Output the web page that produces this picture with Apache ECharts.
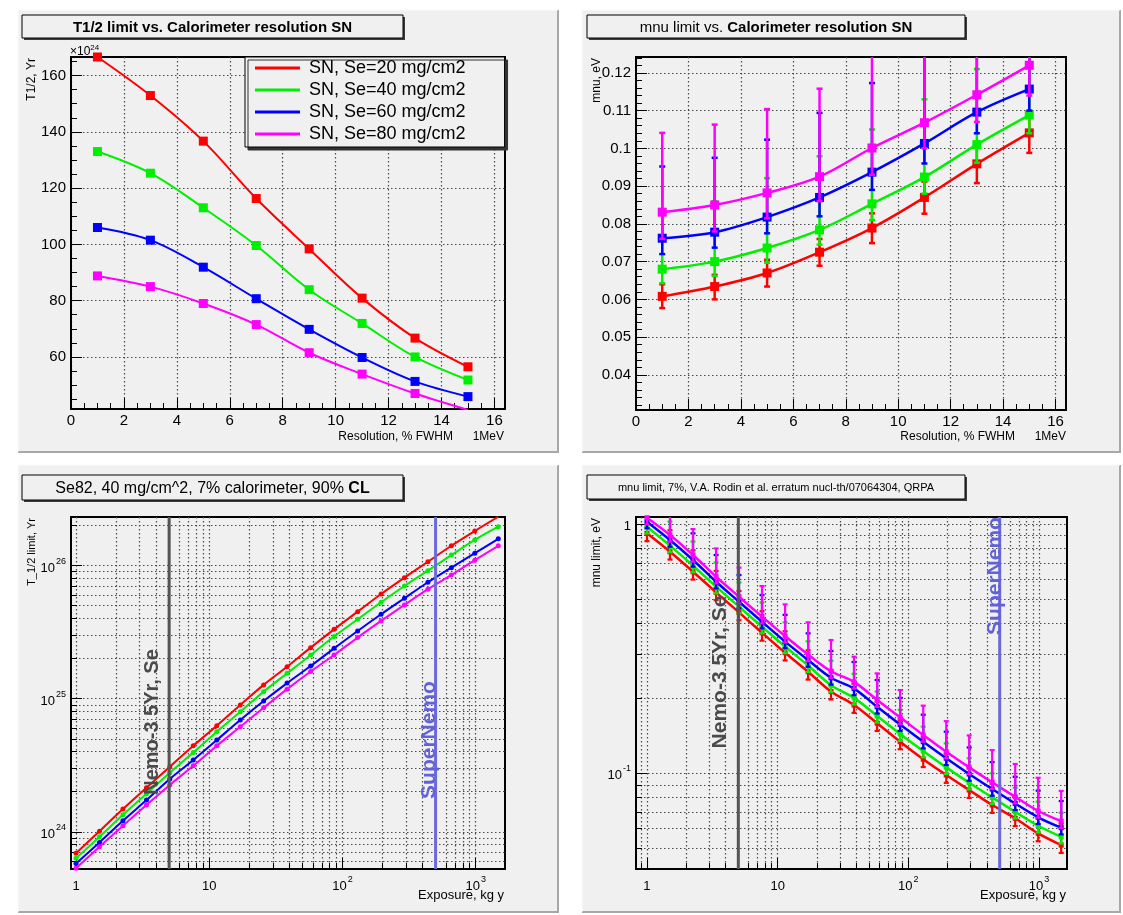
<!DOCTYPE html>
<html>
<head>
<meta charset="utf-8">
<script src="https://cdn.jsdelivr.net/npm/echarts@6.0.0/dist/echarts.min.js"></script>
<style>
  html, body { margin: 0; padding: 0; background: #fff; }
  #main { width: 1123px; height: 915px; }
</style>
</head>
<body>
<div id="main"></div>
<script>
// ---------- data ----------
var seriesNames = ['SN, Se=20 mg/cm2', 'SN, Se=40 mg/cm2', 'SN, Se=60 mg/cm2', 'SN, Se=80 mg/cm2'];
var colors = ['#ff0000', '#00ee00', '#0000ff', '#ff00ff'];

// resolution, % FWHM at 1 MeV
var resolution = [1, 3, 5, 7, 9, 11, 13, 15];

// T1/2 limit (x10^24 yr) vs resolution
var t12Se20 = [166.6, 152.9, 136.7, 116.3, 98.4, 80.9, 66.7, 56.5];
var t12Se40 = [133.0, 125.3, 113.0, 99.6, 83.9, 71.9, 60.0, 51.8];
var t12Se60 = [106.0, 101.5, 91.9, 80.7, 69.8, 59.8, 51.3, 45.9];
var t12Se80 = [88.8, 85.0, 79.0, 71.5, 61.5, 53.9, 47.0, 41.2];

// mnu limit (eV) vs resolution, with error bar ends
var mnuSe20 = [0.0608, 0.0634, 0.0670, 0.0725, 0.0789, 0.0870, 0.0959, 0.1041];
var mnuSe40 = [0.0680, 0.0700, 0.0736, 0.0784, 0.0853, 0.0924, 0.1010, 0.1088];
var mnuSe60 = [0.0762, 0.0778, 0.0818, 0.0870, 0.0937, 0.1013, 0.1096, 0.1157];
var mnuSe80 = [0.0831, 0.0850, 0.0882, 0.0925, 0.1001, 0.1068, 0.1142, 0.1220];
var mnuLoSe20 = [0.0577, 0.0600, 0.0634, 0.0689, 0.0749, 0.0827, 0.0908, 0.0988];
var mnuHiSe20 = [0.0640, 0.0665, 0.0705, 0.0760, 0.0828, 0.0912, 0.1005, 0.1090];
var mnuLoSe40 = [0.0643, 0.0662, 0.0697, 0.0745, 0.0810, 0.0880, 0.0962, 0.1040];
var mnuHiSe40 = [0.0838, 0.0860, 0.0921, 0.0979, 0.1050, 0.1130, 0.1210, 0.1290];
var mnuLoSe60 = [0.0720, 0.0737, 0.0775, 0.0820, 0.0890, 0.0960, 0.1040, 0.1100];
var mnuHiSe60 = [0.0952, 0.0975, 0.1023, 0.1094, 0.1173, 0.1250, 0.1340, 0.1420];
var mnuLoSe80 = [0.0760, 0.0780, 0.0815, 0.0860, 0.0930, 0.1000, 0.1070, 0.1140];
var mnuHiSe80 = [0.1041, 0.1063, 0.1104, 0.1158, 0.1250, 0.1330, 0.1400, 0.1480];

// exposure, kg y
var exposure = [1, 1.5, 2.25, 3.38, 5.06, 7.59, 11.4, 17.1, 25.6, 38.4, 57.7, 86.5, 130, 195, 292, 438, 657, 985, 1478];

// T1/2 limit (yr) vs exposure
var t12ExpSe20 = [6.89e23, 1.01e24, 1.48e24, 2.14e24, 3.08e24, 4.43e24, 6.27e24, 8.97e24, 1.27e25, 1.74e25, 2.42e25, 3.32e25, 4.51e25, 6.12e25, 8.12e25, 1.07e26, 1.41e26, 1.82e26, 2.33e26];
var t12ExpSe40 = [6.31e23, 9.17e23, 1.34e24, 1.93e24, 2.78e24, 3.95e24, 5.65e24, 7.98e24, 1.13e25, 1.55e25, 2.13e25, 2.93e25, 3.95e25, 5.31e25, 7.03e25, 9.17e25, 1.20e26, 1.56e26, 1.96e26];
var t12ExpSe60 = [5.78e23, 8.32e23, 1.21e24, 1.73e24, 2.49e24, 3.46e24, 4.89e24, 6.92e24, 9.61e24, 1.31e25, 1.76e25, 2.39e25, 3.23e25, 4.31e25, 5.69e25, 7.50e25, 9.66e25, 1.24e26, 1.59e26];
var t12ExpSe80 = [5.31e23, 7.71e23, 1.11e24, 1.59e24, 2.25e24, 3.13e24, 4.43e24, 6.15e24, 8.55e24, 1.18e25, 1.60e25, 2.13e25, 2.88e25, 3.84e25, 5.07e25, 6.65e25, 8.51e25, 1.10e26, 1.41e26];

// mnu limit (eV) vs exposure, with error bar ends
var mnuExpSe20 = [0.920, 0.776, 0.645, 0.533, 0.443, 0.367, 0.305, 0.256, 0.213, 0.188, 0.159, 0.134, 0.114, 0.0985, 0.0857, 0.0746, 0.0660, 0.0574, 0.0515];
var mnuExpSe40 = [0.978, 0.821, 0.682, 0.562, 0.467, 0.388, 0.323, 0.271, 0.226, 0.201, 0.170, 0.144, 0.123, 0.1057, 0.0917, 0.0801, 0.0701, 0.0616, 0.0556];
var mnuExpSe60 = [1.025, 0.865, 0.719, 0.588, 0.489, 0.406, 0.338, 0.285, 0.242, 0.219, 0.185, 0.157, 0.134, 0.115, 0.0994, 0.0865, 0.0757, 0.0666, 0.0605];
var mnuExpSe80 = [1.063, 0.906, 0.753, 0.616, 0.512, 0.426, 0.356, 0.300, 0.257, 0.233, 0.197, 0.168, 0.1425, 0.1221, 0.1057, 0.0920, 0.0805, 0.0706, 0.0643];
var mnuExpLoSe20 = [0.856, 0.722, 0.600, 0.496, 0.412, 0.341, 0.284, 0.238, 0.198, 0.175, 0.148, 0.125, 0.106, 0.0916, 0.0797, 0.0694, 0.0614, 0.0534, 0.0479];
var mnuExpHiSe20 = [1.12, 0.947, 0.787, 0.650, 0.540, 0.448, 0.372, 0.312, 0.260, 0.229, 0.194, 0.163, 0.139, 0.120, 0.105, 0.0910, 0.0805, 0.0700, 0.0628];
var mnuExpLoSe40 = [0.919, 0.772, 0.641, 0.528, 0.439, 0.365, 0.304, 0.255, 0.212, 0.189, 0.160, 0.135, 0.116, 0.0994, 0.0862, 0.0753, 0.0659, 0.0579, 0.0523];
var mnuExpHiSe40 = [1.22, 1.026, 0.853, 0.703, 0.584, 0.485, 0.404, 0.339, 0.283, 0.251, 0.213, 0.180, 0.154, 0.132, 0.115, 0.100, 0.0876, 0.0770, 0.0695];
var mnuExpLoSe60 = [0.964, 0.813, 0.676, 0.553, 0.460, 0.382, 0.318, 0.268, 0.227, 0.206, 0.174, 0.148, 0.126, 0.108, 0.0934, 0.0813, 0.0712, 0.0626, 0.0569];
var mnuExpHiSe60 = [1.31, 1.107, 0.920, 0.753, 0.626, 0.520, 0.433, 0.365, 0.310, 0.280, 0.237, 0.201, 0.172, 0.147, 0.127, 0.111, 0.0969, 0.0852, 0.0774];
var mnuExpLoSe80 = [0.999, 0.852, 0.708, 0.579, 0.481, 0.400, 0.335, 0.282, 0.242, 0.219, 0.185, 0.158, 0.134, 0.115, 0.0994, 0.0865, 0.0757, 0.0664, 0.0604];
var mnuExpHiSe80 = [1.10, 1.09, 0.957, 0.800, 0.670, 0.565, 0.477, 0.404, 0.343, 0.294, 0.252, 0.216, 0.187, 0.162, 0.142, 0.124, 0.109, 0.096, 0.085];

// reference exposures (vertical lines)
var markerExposure = [5, 500];
var markerLabels = ['Nemo-3 5Yr, Se', 'SuperNemo'];
var markerColors = ['#555555', '#6a6ada'];

// tick positions / labels
var resTicks = [0, 2, 4, 6, 8, 10, 12, 14, 16];
var t12Ticks = [60, 80, 100, 120, 140, 160];
var mnuTicks = [0.04, 0.05, 0.06, 0.07, 0.08, 0.09, 0.1, 0.11, 0.12];
var expDecades = [1, 10, 100, 1000];
var t12Decades = [1e24, 1e25, 1e26];
var mnuDecades = [0.1, 1];

// ---------- helpers ----------
var FONT = '"Liberation Sans", Arial, Helvetica, sans-serif';
var PANEL = '#f0f0f0';
var gridLine = { color: '#4a4a4a', type: [1.5, 2.5], width: 1.2 };

function steps(from, to, step) {
    var out = [];
    for (var v = from; v <= to + step * 1e-6; v += step) out.push(Math.round(v * 1e6) / 1e6);
    return out;
}
function logMinors(fromExp, toExp, lo, hi) {
    var out = [];
    for (var e = fromExp; e <= toExp; e++) {
        for (var m = 2; m <= 9; m++) {
            var v = m * Math.pow(10, e);
            if (v >= lo && v <= hi) out.push(v);
        }
    }
    return out;
}
function withoutMajors(list, majors) {
    return list.filter(function (v) {
        return !majors.some(function (m) { return Math.abs(m - v) < 1e-9 * Math.max(1, Math.abs(m)); });
    });
}

var supRich = {
    b: { fontSize: 13, fontFamily: FONT, color: '#000', lineHeight: 18, verticalAlign: 'bottom' },
    s: { fontSize: 9, fontFamily: FONT, color: '#000', lineHeight: 18, verticalAlign: 'top', padding: [0, 0, 0, 1] }
};

function axisPair(g, pos, c) {
    var common = { type: c.type, gridIndex: g, position: pos, min: c.min, max: c.max };
    if (c.type === 'log') common.logBase = 10;
    var main = Object.assign({}, common, {
        axisLine: { show: true, onZero: false, lineStyle: { color: '#000', width: 2 } },
        axisTick: { show: true, inside: true, length: 11, customValues: c.majors, lineStyle: { color: '#000', width: 1 } },
        axisLabel: {
            show: true, customValues: c.labels || c.majors, formatter: c.fmt, color: '#000',
            fontFamily: FONT, fontSize: c.fontSize, margin: c.margin, rich: c.rich, hideOverlap: false
        },
        splitLine: { show: true, lineStyle: gridLine },
        minorTick: { show: false },
        minorSplitLine: { show: false }
    });
    var over = Object.assign({}, common, {
        axisLine: { show: false },
        axisLabel: { show: false },
        axisTick: { show: true, inside: true, length: 6, customValues: c.minors, lineStyle: { color: '#000', width: 1 } },
        splitLine: { show: !!c.logGrid, lineStyle: gridLine },
        minorTick: { show: false },
        minorSplitLine: { show: false }
    });
    return [main, over];
}

function expFmt(v) {
    if (Math.abs(v - 1) < 1e-9) return '{b|1}';
    if (Math.abs(v - 10) < 1e-9) return '{b|10}';
    return '{b|10}{s|' + Math.round(Math.log10(v)) + '}';
}

function lineSeries(g, name, xs, ys, color, z, symbol, size, width) {
    return {
        type: 'line', name: name, xAxisIndex: 2 * g, yAxisIndex: 2 * g, z: z,
        data: xs.map(function (x, i) { return [x, ys[i]]; }),
        smooth: 0.35, symbol: symbol, symbolSize: size, showSymbol: true, showAllSymbol: true,
        itemStyle: { color: color }, lineStyle: { color: color, width: width },
        silent: true, animation: false
    };
}

function errorSeries(g, xs, lo, hi, color, z, cap, width) {
    return {
        type: 'custom', xAxisIndex: 2 * g, yAxisIndex: 2 * g, z: z, silent: true, animation: false,
        data: xs.map(function (x, i) { return [x, lo[i], hi[i]]; }),
        renderItem: function (params, api) {
            var cs = params.coordSys;
            var top = cs.y, bot = cs.y + cs.height;
            var p0 = api.coord([api.value(0), api.value(1)]);
            var p1 = api.coord([api.value(0), api.value(2)]);
            var x = p0[0];
            var y0 = Math.min(Math.max(p0[1], top), bot);
            var y1 = Math.min(Math.max(p1[1], top), bot);
            var st = { stroke: color, lineWidth: width };
            var kids = [{ type: 'line', shape: { x1: x, y1: y0, x2: x, y2: y1 }, style: st }];
            if (p0[1] >= top && p0[1] <= bot) kids.push({ type: 'line', shape: { x1: x - cap, y1: y0, x2: x + cap, y2: y0 }, style: st });
            if (p1[1] >= top && p1[1] <= bot) kids.push({ type: 'line', shape: { x1: x - cap, y1: y1, x2: x + cap, y2: y1 }, style: st });
            return { type: 'group', children: kids };
        }
    };
}

function markerSeries(g, yRef) {
    return {
        type: 'custom', xAxisIndex: 2 * g, yAxisIndex: 2 * g, z: 20, silent: true, animation: false,
        data: markerExposure.map(function (x, i) { return [x, yRef, i]; }),
        renderItem: function (params, api) {
            var cs = params.coordSys;
            var x = api.coord([api.value(0), api.value(1)])[0];
            return {
                type: 'line', shape: { x1: x, y1: cs.y, x2: x, y2: cs.y + cs.height },
                style: { stroke: markerColors[api.value(2)], lineWidth: 3 }
            };
        }
    };
}

// ---------- axes ----------
var xAxes = [], yAxes = [];
// top-left
xAxes = xAxes.concat(axisPair(0, 'bottom', { type: 'value', min: 0, max: 16.4, majors: resTicks,
    minors: withoutMajors(steps(0.5, 16, 0.5), resTicks), fontSize: 15, margin: 4 }));
yAxes = yAxes.concat(axisPair(0, 'left', { type: 'value', min: 41.5, max: 166.6, majors: t12Ticks,
    minors: withoutMajors(steps(45, 165, 5), t12Ticks), fontSize: 15, margin: 5 }));
// top-right
xAxes = xAxes.concat(axisPair(1, 'bottom', { type: 'value', min: 0, max: 16.4, majors: resTicks,
    minors: withoutMajors(steps(0.5, 16, 0.5), resTicks), fontSize: 15, margin: 4 }));
yAxes = yAxes.concat(axisPair(1, 'left', { type: 'value', min: 0.0307, max: 0.1242, majors: mnuTicks,
    minors: withoutMajors(steps(0.032, 0.124, 0.002), mnuTicks), fontSize: 15, margin: 5 }));
// bottom-left
xAxes = xAxes.concat(axisPair(2, 'bottom', { type: 'log', min: 0.917, max: 1660, majors: expDecades,
    minors: logMinors(-1, 3, 0.917, 1660), fmt: expFmt, rich: supRich, fontSize: 13, margin: 6, logGrid: true }));
yAxes = yAxes.concat(axisPair(2, 'left', { type: 'log', min: 5.25e23, max: 2.32e26, majors: t12Decades,
    minors: logMinors(23, 26, 5.25e23, 2.32e26), fmt: function (v) { return '{b|10}{s|' + Math.round(Math.log10(v)) + '}'; },
    rich: supRich, fontSize: 13, margin: 5, logGrid: true }));
// bottom-right
xAxes = xAxes.concat(axisPair(3, 'bottom', { type: 'log', min: 0.824, max: 1637, majors: expDecades,
    minors: logMinors(-1, 3, 0.824, 1637), fmt: expFmt, rich: supRich, fontSize: 13, margin: 6, logGrid: true }));
yAxes = yAxes.concat(axisPair(3, 'left', { type: 'log', min: 0.0413, max: 1.07, majors: mnuDecades,
    minors: logMinors(-2, 0, 0.0413, 1.07), fmt: function (v) { return v > 0.5 ? '{b|1}' : '{b|10}{s|-1}'; },
    rich: supRich, fontSize: 13, margin: 5, logGrid: true }));

// ---------- series ----------
var series = [];
var t12Res = [t12Se20, t12Se40, t12Se60, t12Se80];
var mnuRes = [mnuSe20, mnuSe40, mnuSe60, mnuSe80];
var mnuResLo = [mnuLoSe20, mnuLoSe40, mnuLoSe60, mnuLoSe80];
var mnuResHi = [mnuHiSe20, mnuHiSe40, mnuHiSe60, mnuHiSe80];
var t12Exp = [t12ExpSe20, t12ExpSe40, t12ExpSe60, t12ExpSe80];
var mnuExp = [mnuExpSe20, mnuExpSe40, mnuExpSe60, mnuExpSe80];
var mnuExpLo = [mnuExpLoSe20, mnuExpLoSe40, mnuExpLoSe60, mnuExpLoSe80];
var mnuExpHi = [mnuExpHiSe20, mnuExpHiSe40, mnuExpHiSe60, mnuExpHiSe80];

for (var i = 0; i < 4; i++) {
    series.push(lineSeries(0, seriesNames[i], resolution, t12Res[i], colors[i], 2 + i, 'rect', 9, 2));

    series.push(errorSeries(1, resolution, mnuResLo[i], mnuResHi[i], colors[i], 2 + i, 3, 2.5));
    series.push(lineSeries(1, seriesNames[i], resolution, mnuRes[i], colors[i], 2 + i, 'rect', 9, 2.5));

    series.push(lineSeries(2, seriesNames[i], exposure, t12Exp[i], colors[i], 2 + i, 'circle', 5, 2));

    series.push(errorSeries(3, exposure, mnuExpLo[i], mnuExpHi[i], colors[i], 2 + i, 2.5, 2.2));
    series.push(lineSeries(3, seriesNames[i], exposure, mnuExp[i], colors[i], 2 + i, 'rect', 5, 2.5));
}
series.push(markerSeries(2, 1e25));
series.push(markerSeries(3, 0.3));

// ---------- decorations (panels, titles, axis titles) ----------
var graphics = [];
function panel(x, y, w, h) {
    graphics.push({ type: 'rect', z: -20, shape: { x: x, y: y, width: w, height: h }, style: { fill: PANEL } });
    graphics.push({ type: 'polyline', z: -19, shape: { points: [[x + w, y], [x + w, y + h], [x, y + h]] },
        style: { stroke: '#a8a8a8', lineWidth: 2, fill: null } });
    graphics.push({ type: 'polyline', z: -19, shape: { points: [[x, y + h], [x, y], [x + w, y]] },
        style: { stroke: '#fbfbfb', lineWidth: 1, fill: null } });
}
function titleBox(x, y, w, h, text, font, rich) {
    graphics.push({ type: 'rect', z: 50, shape: { x: x + 2, y: y + 2, width: w, height: h }, style: { fill: '#3c3c3c' } });
    graphics.push({ type: 'rect', z: 51, shape: { x: x, y: y, width: w, height: h }, style: { fill: PANEL, stroke: '#000', lineWidth: 1 } });
    graphics.push({ type: 'text', z: 52, x: x + w / 2, y: y + h / 2 + 1,
        style: { text: text, font: font, fill: '#000', rich: rich, align: 'center', verticalAlign: 'middle',
            textAlign: 'center', textVerticalAlign: 'middle' } });
}
function label(x, y, text, font, align, rot, color, rich) {
    graphics.push({ type: 'text', z: 60, x: x, y: y, rotation: rot || 0,
        style: { text: text, font: font, fill: color || '#000', rich: rich, align: align, verticalAlign: 'middle',
            textAlign: align, textVerticalAlign: 'middle' } });
}

panel(18, 10, 540, 442);
panel(582, 10, 538, 442);
panel(18, 465, 540, 447);
panel(582, 465, 538, 447);

var R = Math.PI / 2;
titleBox(22, 15, 381, 23, 'T1/2 limit vs. Calorimeter resolution SN', 'bold 15px ' + FONT);
titleBox(587, 15, 378, 23, '{n|mnu limit vs. }{b|Calorimeter resolution SN}', '15px ' + FONT,
    { n: { font: '15px ' + FONT, fill: '#000', color: '#000' }, b: { font: 'bold 15px ' + FONT, fill: '#000', color: '#000' } });
titleBox(22, 475, 381, 25, '{n|Se82, 40 mg/cm^2, 7% calorimeter, 90% }{b|CL}', '16px ' + FONT,
    { n: { font: '16px ' + FONT, fill: '#000', color: '#000' }, b: { font: 'bold 16px ' + FONT, fill: '#000', color: '#000' } });
titleBox(587, 475, 378, 24, 'mnu limit, 7%, V.A. Rodin et al. erratum nucl-th/07064304, QRPA', '11px ' + FONT);

// axis titles
label(32, 58, 'T1/2, Yr', '12px ' + FONT, 'right', R);
label(70, 51, '{a|\u00d710}{s|24}', '12px ' + FONT, 'left', 0, '#000',
    { a: { font: '12px ' + FONT, fill: '#000', verticalAlign: 'bottom', lineHeight: 14 },
      s: { font: '8px ' + FONT, fill: '#000', verticalAlign: 'top', lineHeight: 14 } });
label(453, 437, 'Resolution, % FWHM', '12px ' + FONT, 'right');
label(504, 437, '1MeV', '12px ' + FONT, 'right');

label(597, 58, 'mnu, eV', '12px ' + FONT, 'right', R);
label(1015, 437, 'Resolution, % FWHM', '12px ' + FONT, 'right');
label(1066, 437, '1MeV', '12px ' + FONT, 'right');

label(32, 518, 'T_1/2 limit, Yr', '11px ' + FONT, 'right', R);
label(504, 895, 'Exposure, kg y', '13px ' + FONT, 'right');

label(597, 518, 'mnu limit, eV', '12px ' + FONT, 'right', R);
label(1066, 895, 'Exposure, kg y', '13px ' + FONT, 'right');

// vertical line captions
label(152, 722, markerLabels[0], 'bold 20px ' + FONT, 'center', R, '#4a4a4a');
label(429, 740, markerLabels[1], 'bold 21px ' + FONT, 'center', R, '#6262d6');
label(720, 672, markerLabels[0], 'bold 21px ' + FONT, 'center', R, '#4a4a4a');
label(995, 576, markerLabels[1], 'bold 21px ' + FONT, 'center', R, '#6262d6');

// ---------- chart ----------
var chart = echarts.init(document.getElementById('main'), null, { renderer: 'canvas' });
var gridBase = { show: true, borderColor: '#000', borderWidth: 2, backgroundColor: 'transparent', containLabel: false, outerBoundsMode: 'none' };
chart.setOption({
    backgroundColor: '#ffffff',
    animation: false,
    textStyle: { fontFamily: FONT },
    grid: [
        Object.assign({ left: 71, top: 57, width: 434, height: 352 }, gridBase),
        Object.assign({ left: 636, top: 57, width: 430, height: 353 }, gridBase),
        Object.assign({ left: 71, top: 517, width: 434, height: 352 }, gridBase),
        Object.assign({ left: 636, top: 517, width: 431, height: 352 }, gridBase)
    ],
    legend: {
        data: seriesNames, orient: 'vertical', left: 245, top: 57,
        padding: [1, 39, 3, 10], itemGap: 2, itemWidth: 45, itemHeight: 3, icon: 'rect',
        textStyle: { fontSize: 18, lineHeight: 20, fontFamily: FONT, color: '#000', padding: [0, 0, 0, 4] },
        backgroundColor: PANEL, borderColor: '#000', borderWidth: 1,
        shadowColor: '#333', shadowOffsetX: 3, shadowOffsetY: 3, shadowBlur: 0,
        selectedMode: false, z: 30
    },
    xAxis: xAxes,
    yAxis: yAxes,
    series: series,
    graphic: { elements: graphics }
});
</script>
</body>
</html>
